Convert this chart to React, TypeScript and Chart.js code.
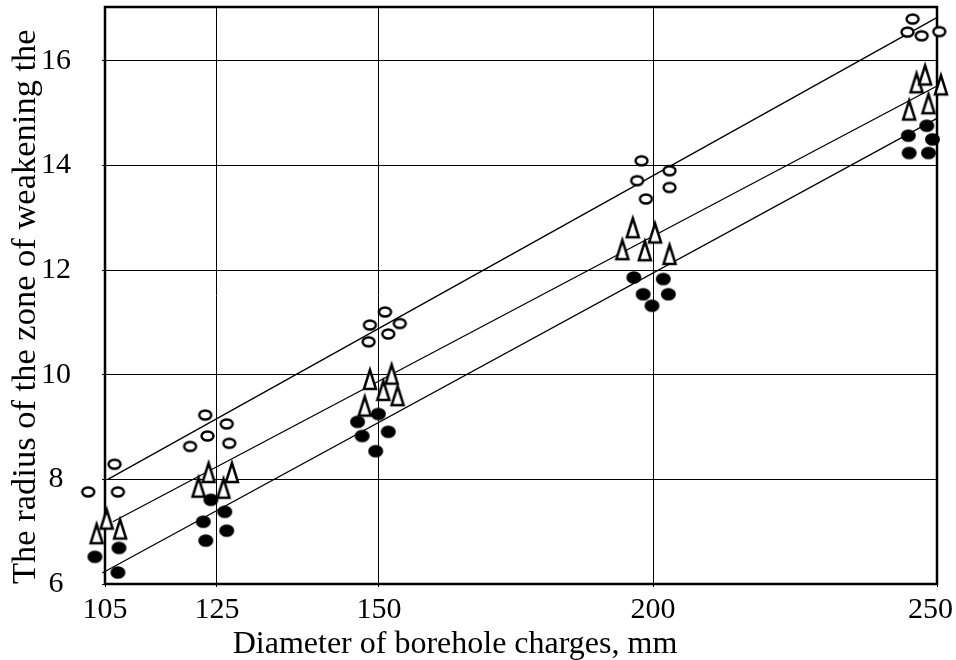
import React, { useEffect, useRef } from 'react';
import { Chart, registerables, LinearScale } from 'chart.js';

// ---- axis definition (the original x axis is not proportional) ----
const xTickValues = [105, 125, 150, 200, 250];
const xTickFractions = [0, 0.1346, 0.3293, 0.6587, 1];
const yTickValues = [6, 8, 10, 12, 14, 16];
const yMin = 6;
const yMax = 17.03;

const xTitle = 'Diameter of borehole charges, mm';
const yTitle = 'The radius of the zone of weakening the';

// ---- measured points: open circles ----
const openX = [102.0, 106.7, 107.3, 120.2, 122.9, 123.3, 126.5, 126.9, 148.4, 148.6, 151.1, 151.7, 153.8, 197.1, 197.9, 198.7, 202.9, 202.9, 244.8, 245.7, 247.3, 250.4];
const openY = [7.76, 8.29, 7.76, 8.63, 9.23, 8.83, 9.06, 8.69, 10.63, 10.95, 11.2, 10.78, 10.98, 13.71, 14.09, 13.36, 13.9, 13.58, 16.55, 16.8, 16.48, 16.56];

// ---- measured points: triangles ----
const triX = [103.5, 105.3, 107.7, 121.7, 123.5, 126.0, 127.3, 147.8, 148.6, 150.8, 152.3, 153.4, 194.4, 196.3, 198.5, 200.35, 202.9, 245.1, 246.4, 247.9, 248.5, 250.7];
const triY = [6.98, 7.26, 7.07, 7.87, 8.15, 7.85, 8.15, 9.42, 9.93, 9.72, 10.03, 9.62, 12.41, 12.83, 12.39, 12.73, 12.32, 15.08, 15.6, 15.75, 15.2, 15.56];

// ---- measured points: filled dots ----
const dotX = [102.8, 103.2, 107.3, 107.5, 122.55, 123.0, 123.9, 126.2, 126.5, 146.7, 147.4, 149.5, 149.9, 151.7, 196.5, 198.2, 199.8, 201.8, 202.7, 244.95, 245.1, 248.2, 248.5, 249.2];
const dotY = [6.04, 6.52, 6.22, 6.69, 7.19, 6.83, 7.61, 7.38, 7.02, 9.1, 8.83, 8.54, 9.25, 8.91, 11.86, 11.54, 11.32, 11.83, 11.54, 14.57, 14.24, 14.76, 14.24, 14.5];

// ---- fitted lines (end points) ----
const upperLineX = [105.5, 250.2];
const upperLineY = [8.0, 16.84];
const middleLineX = [106.4, 250];
const middleLineY = [7.19, 15.52];
const lowerLineX = [104.5, 250];
const lowerLineY = [6.21, 14.9];

const SERIF = "'Liberation Serif', 'Times New Roman', serif";

function toFraction(v: number): number {
  const n = xTickValues.length;
  let i = 0;
  if (v >= xTickValues[n - 1]) i = n - 2;
  else if (v > xTickValues[0]) {
    while (v > xTickValues[i + 1]) i++;
  }
  const t = (v - xTickValues[i]) / (xTickValues[i + 1] - xTickValues[i]);
  return xTickFractions[i] + t * (xTickFractions[i + 1] - xTickFractions[i]);
}

function fromFraction(f: number): number {
  const n = xTickFractions.length;
  let i = 0;
  if (f >= xTickFractions[n - 1]) i = n - 2;
  else if (f > xTickFractions[0]) {
    while (f > xTickFractions[i + 1]) i++;
  }
  const t = (f - xTickFractions[i]) / (xTickFractions[i + 1] - xTickFractions[i]);
  return xTickValues[i] + t * (xTickValues[i + 1] - xTickValues[i]);
}

class BrokenLinearScale extends LinearScale {
  static id = 'brokenLinear';
  static defaults = {};
  buildTicks() {
    return xTickValues.map((value) => ({ value }));
  }
  getPixelForValue(value: any) {
    if (value === null || value === undefined || isNaN(value)) return NaN;
    return this.getPixelForDecimal(toFraction(+value));
  }
  getValueForPixel(pixel: number) {
    return fromFraction(this.getDecimalForPixel(pixel));
  }
}

function pts(xs: number[], ys: number[]) {
  return xs.map((x, i) => ({ x, y: ys[i] }));
}

function makeImage(w: number, h: number, draw: (ctx: CanvasRenderingContext2D) => void) {
  const c = document.createElement('canvas');
  c.width = w;
  c.height = h;
  const ctx = c.getContext('2d') as CanvasRenderingContext2D;
  draw(ctx);
  return c;
}

const framePlugin = {
  id: 'frameAndLabels',
  beforeDatasetsDraw(chart: any) {
    const { ctx, chartArea: a } = chart;
    ctx.save();
    ctx.strokeStyle = '#000';
    ctx.lineWidth = 2.5;
    ctx.strokeRect(a.left, a.top, a.right - a.left, a.bottom - a.top);
    ctx.restore();
  },
  afterDraw(chart: any) {
    const { ctx, chartArea: a } = chart;
    const xs = chart.scales.x;
    const W = chart.width;
    ctx.save();
    ctx.fillStyle = '#000';
    ctx.textBaseline = 'alphabetic';
    ctx.textAlign = 'center';
    ctx.font = `30px ${SERIF}`;
    xTickValues.forEach((v) => {
      const label = String(v);
      const w = ctx.measureText(label).width;
      let x = xs.getPixelForValue(v);
      x = Math.min(Math.max(x, w / 2 + 2), W - w / 2 - 3);
      ctx.fillText(label, x, a.bottom + 34);
    });
    ctx.font = `32px ${SERIF}`;
    ctx.fillText(xTitle, a.left + 350, a.bottom + 69);
    ctx.restore();
  },
};

export default function App() {
  const ref = useRef<HTMLCanvasElement>(null);
  useEffect(() => {
    Chart.register(...registerables, BrokenLinearScale);
    Chart.defaults.font.family = SERIF;
    Chart.defaults.color = '#000';

    const circleImg = makeImage(17, 14, (ctx) => {
      ctx.beginPath();
      ctx.ellipse(8.5, 7, 6.0, 4.5, 0, 0, Math.PI * 2);
      ctx.fillStyle = '#fff';
      ctx.fill();
      ctx.lineWidth = 2.4;
      ctx.strokeStyle = '#000';
      ctx.stroke();
    });
    const triImg = makeImage(18, 27, (ctx) => {
      ctx.beginPath();
      ctx.moveTo(9, 5.0);
      ctx.lineTo(15.0, 24);
      ctx.lineTo(3.0, 24);
      ctx.closePath();
      ctx.fillStyle = '#fff';
      ctx.fill();
      ctx.lineWidth = 2.5;
      ctx.lineJoin = 'miter';
      ctx.strokeStyle = '#000';
      ctx.stroke();
    });
    const dotImg = makeImage(17, 15, (ctx) => {
      ctx.beginPath();
      ctx.ellipse(8.5, 7.5, 7.5, 6.3, 0, 0, Math.PI * 2);
      ctx.fillStyle = '#000';
      ctx.fill();
    });

    const lineDs = (xs: number[], ys: number[]) => ({
      data: pts(xs, ys),
      showLine: true,
      borderColor: '#000',
      borderWidth: 1.3,
      pointRadius: 0,
      fill: false,
      clip: false,
      order: 10,
    });
    const pointDs = (xs: number[], ys: number[], img: HTMLCanvasElement) => ({
      data: pts(xs, ys),
      showLine: false,
      pointStyle: img,
      pointRadius: 20,
      borderWidth: 0,
      clip: false,
      order: 1,
    });

    const chart = new Chart(ref.current as HTMLCanvasElement, {
      type: 'scatter',
      data: {
        datasets: [
          lineDs(upperLineX, upperLineY),
          lineDs(middleLineX, middleLineY),
          lineDs(lowerLineX, lowerLineY),
          pointDs(openX, openY, circleImg),
          pointDs(triX, triY, triImg),
          pointDs(dotX, dotY, dotImg),
        ] as any,
      },
      options: {
        animation: false,
        responsive: true,
        maintainAspectRatio: false,
        events: [],
        layout: { autoPadding: false, padding: { left: 0, right: 19, top: 7, bottom: 0 } },
        plugins: { legend: { display: false }, tooltip: { enabled: false } },
        scales: {
          x: {
            type: 'brokenLinear' as any,
            position: 'bottom',
            min: 105,
            max: 250,
            afterFit: (s: any) => {
              s.height = 76;
              s.paddingLeft = 0;
              s.paddingRight = 0;
            },
            grid: { color: '#000', lineWidth: 1, drawTicks: true, tickLength: 3 },
            border: { display: false },
            ticks: { display: false },
          },
          y: {
            type: 'linear',
            min: yMin,
            max: yMax,
            afterBuildTicks: (s: any) => {
              s.ticks = yTickValues.map((value) => ({ value }));
            },
            afterFit: (s: any) => {
              s.width = 105;
              s.paddingTop = 0;
              s.paddingBottom = 0;
            },
            grid: { color: '#000', lineWidth: 1, drawTicks: true, tickLength: 3 },
            border: { display: false },
            ticks: { font: { size: 30 }, color: '#000', padding: 31, crossAlign: 'center' },
            title: {
              display: true,
              text: yTitle,
              align: 'start',
              color: '#000',
              font: { size: 34.5 },
              padding: { top: 5, bottom: 0 },
            },
          },
        },
      } as any,
      plugins: [framePlugin],
    });
    return () => chart.destroy();
  }, []);

  return (
    <div style={{ position: 'fixed', left: 0, top: 0, width: 956, height: 660, background: '#fff' }}>
      <canvas ref={ref} />
    </div>
  );
}
